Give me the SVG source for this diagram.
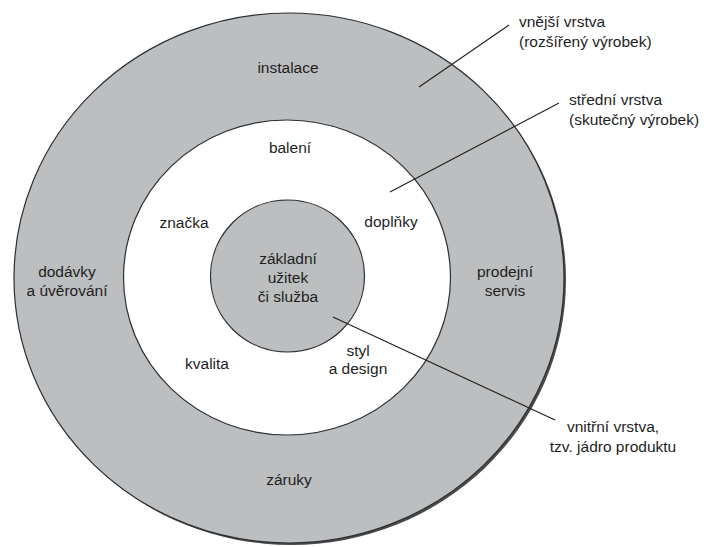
<svg xmlns="http://www.w3.org/2000/svg" width="704" height="547" viewBox="0 0 704 547">
<style>
text{font-family:"Liberation Sans",Arial,sans-serif;font-size:15.5px;fill:#1e1e1e;text-anchor:middle}
.ring{fill:#bcbec0;stroke:#2a2f33;stroke-width:1.2}
.mid{fill:#ffffff;stroke:#2a2f33;stroke-width:1.2}
.lead{stroke:#1e1e1e;stroke-width:1.1;fill:none}
.l{text-anchor:start}
</style>
<rect width="704" height="547" fill="#ffffff"/>
<g id="outer-layer">
<ellipse cx="291" cy="280" rx="275" ry="265" fill="#4a4a4a"/>
<ellipse class="ring" cx="289" cy="278" rx="275" ry="265"/>
<text x="288" y="73">instalace</text>
<text x="67" y="277">dodávky</text>
<text x="67" y="296">a úvěrování</text>
<text x="505" y="277">prodejní</text>
<text x="505" y="296">servis</text>
<text x="289" y="485">záruky</text>
</g>
<g id="middle-layer">
<ellipse class="mid" cx="287" cy="277.5" rx="163.5" ry="157.5"/>
<text x="290" y="153">balení</text>
<text x="184" y="228">značka</text>
<text x="391" y="227">doplňky</text>
<text x="207" y="369">kvalita</text>
<text x="358" y="356">styl</text>
<text x="358" y="374">a design</text>
</g>
<g id="inner-layer">
<ellipse class="ring" cx="287.5" cy="276" rx="77" ry="76"/>
<text x="288" y="264">základní</text>
<text x="288" y="283">užitek</text>
<text x="288" y="302">či služba</text>
</g>
<g id="connectors">
<line class="lead" x1="419" y1="87" x2="509" y2="25"/>
<line class="lead" x1="390" y1="192" x2="559" y2="103"/>
<line class="lead" x1="333" y1="317" x2="555" y2="420"/>
</g>
<g id="label-outer">
<text class="l" x="519" y="27">vnější vrstva</text>
<text class="l" x="519" y="47">(rozšířený výrobek)</text>
</g>
<g id="label-middle">
<text class="l" x="569" y="105">střední vrstva</text>
<text class="l" x="569" y="125">(skutečný výrobek)</text>
</g>
<g id="label-inner">
<text x="613" y="432">vnitřní vrstva,</text>
<text x="613" y="452">tzv. jádro produktu</text>
</g>
</svg>
